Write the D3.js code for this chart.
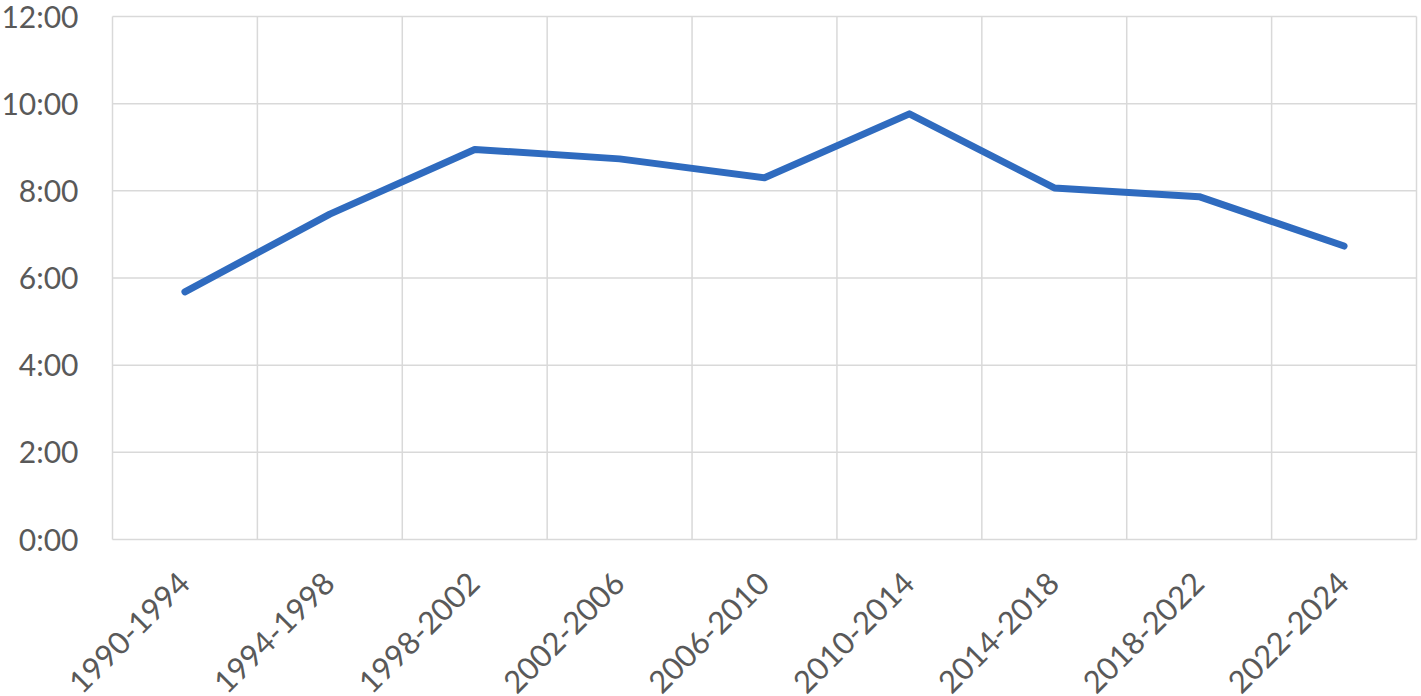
<!DOCTYPE html>
<html>
<head>
<meta charset="utf-8">
<script src="https://cdn.jsdelivr.net/npm/d3@7"></script>
<style>
  html, body { margin: 0; padding: 0; background: #fff; }
  svg { display: block; }
  .tick text { font-family: Lato, "Open Sans", sans-serif; fill: #595959; }
</style>
</head>
<body>
<script>
// data
const periods = ["1990-1994", "1994-1998", "1998-2002", "2002-2006", "2006-2010",
  "2010-2014", "2014-2018", "2018-2022", "2022-2024"];
const times = ["5:41", "7:28", "8:57", "8:44", "8:18", "9:46", "8:04", "7:52", "6:44"];
const yTicks = ["0:00", "2:00", "4:00", "6:00", "8:00", "10:00", "12:00"];

const toMin = (s) => {
  const [h, m] = s.split(":").map(Number);
  return h * 60 + m;
};
const fmt = (v) => `${Math.floor(v / 60)}:${String(v % 60).padStart(2, "0")}`;

// layout
const w = 1421;
const h = 696;
const margin = { top: 16.5, right: 4.5, bottom: 156.5, left: 112.5 };

const svg = d3.select("body").append("svg").attr("width", w).attr("height", h);

const x = d3.scaleBand().domain(periods).range([margin.left, w - margin.right]);
const y = d3.scaleLinear()
  .domain([0, d3.max(yTicks, toMin)])
  .range([h - margin.bottom, margin.top]);

// horizontal grid
svg.append("g")
  .selectAll("line")
  .data(yTicks.map(toMin))
  .join("line")
  .attr("x1", margin.left)
  .attr("x2", w - margin.right)
  .attr("y1", (d) => y(d))
  .attr("y2", (d) => y(d))
  .attr("stroke", "#d9d9d9")
  .attr("stroke-width", 1.5);

// vertical grid at category edges
const edges = periods.map((p) => x(p)).concat([x(periods[periods.length - 1]) + x.bandwidth()]);
svg.append("g")
  .selectAll("line")
  .data(edges)
  .join("line")
  .attr("x1", (d) => d)
  .attr("x2", (d) => d)
  .attr("y1", margin.top)
  .attr("y2", h - margin.bottom)
  .attr("stroke", "#d9d9d9")
  .attr("stroke-width", 1.5);

// y axis
const yAxis = d3.axisLeft(y)
  .tickValues(yTicks.map(toMin))
  .tickFormat(fmt)
  .tickSize(0)
  .tickPadding(34);

svg.append("g")
  .attr("transform", `translate(${margin.left}, 0)`)
  .call(yAxis)
  .call((g) => g.select(".domain").remove())
  .selectAll("text")
  .attr("font-size", 30)
  .attr("dy", "0.35em");

// x axis
const xAxis = d3.axisBottom(x).tickSize(0);
svg.append("g")
  .attr("transform", `translate(0, ${h - margin.bottom})`)
  .call(xAxis)
  .call((g) => g.select(".domain").remove())
  .selectAll("text")
  .attr("font-size", 31)
  .attr("text-anchor", "end")
  .attr("dy", null)
  .attr("y", 0)
  .attr("transform", "translate(7, 46) rotate(-45)");

// line
const line = d3.line()
  .x((d, i) => x(periods[i]) + x.bandwidth() / 2)
  .y((d) => y(toMin(d)));

svg.append("path")
  .datum(times)
  .attr("d", line)
  .attr("fill", "none")
  .attr("stroke", "#2f6bbf")
  .attr("stroke-width", 7)
  .attr("stroke-linecap", "round")
  .attr("stroke-linejoin", "round");
</script>
</body>
</html>
